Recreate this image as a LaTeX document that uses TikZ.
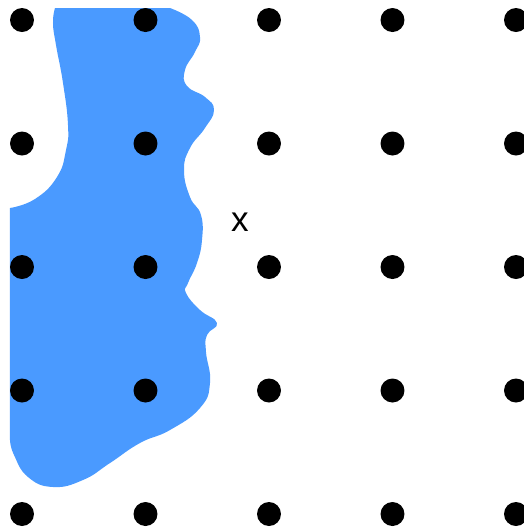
\documentclass[tikz,border=0pt]{standalone}
\usepackage{fontspec}
\setsansfont{Liberation Sans}
\usepackage{tikz}
\definecolor{regionblue}{RGB}{74,154,255}

\begin{document}
\begin{tikzpicture}[x=0.02cm, y=-0.02cm,
    dot/.style={circle, fill=black, inner sep=0pt, minimum size=0.48cm}]
    \useasboundingbox (0,0) rectangle (524,529);

    % 1. The blue region (left edge and top edge cut off straight)
    \fill[regionblue] (55,8) -- (170,8)
        -- plot[smooth, tension=0.8] coordinates {(170,8) (192,20) (200,37) (195,52)
            (185,70) (187,86) (205,97) (214,110) (205,128) (190,148) (184,170)
            (190,197) (201,215) (202,240) (197,263) (188,283) (186,293) (200,310)
            (217,323) (207,335) (206,352) (210,383) (200,408) (170,430) (140,443)
            (110,463) (83,480) (53,487) (28,477) (14,455) (10,440)}
        -- (10,208)
        -- plot[smooth, tension=0.8] coordinates {(10,208) (35,199) (57,177) (66,150)
            (68,125) (63,83) (56,45) (53,23) (55,8)}
        -- cycle;

    % 2. The 5x5 lattice of dots, named d-column-row
    \foreach \i in {0,...,4} {
        \foreach \j in {0,...,4} {
            \node[dot] (d-\i-\j) at (22+123.5*\i, 20+123.5*\j) {};
        }
    }

    % 3. The label
    \node[font=\sffamily\fontsize{20}{24}\selectfont] (lbl) at (240,222) {x};
\end{tikzpicture}
\end{document}
